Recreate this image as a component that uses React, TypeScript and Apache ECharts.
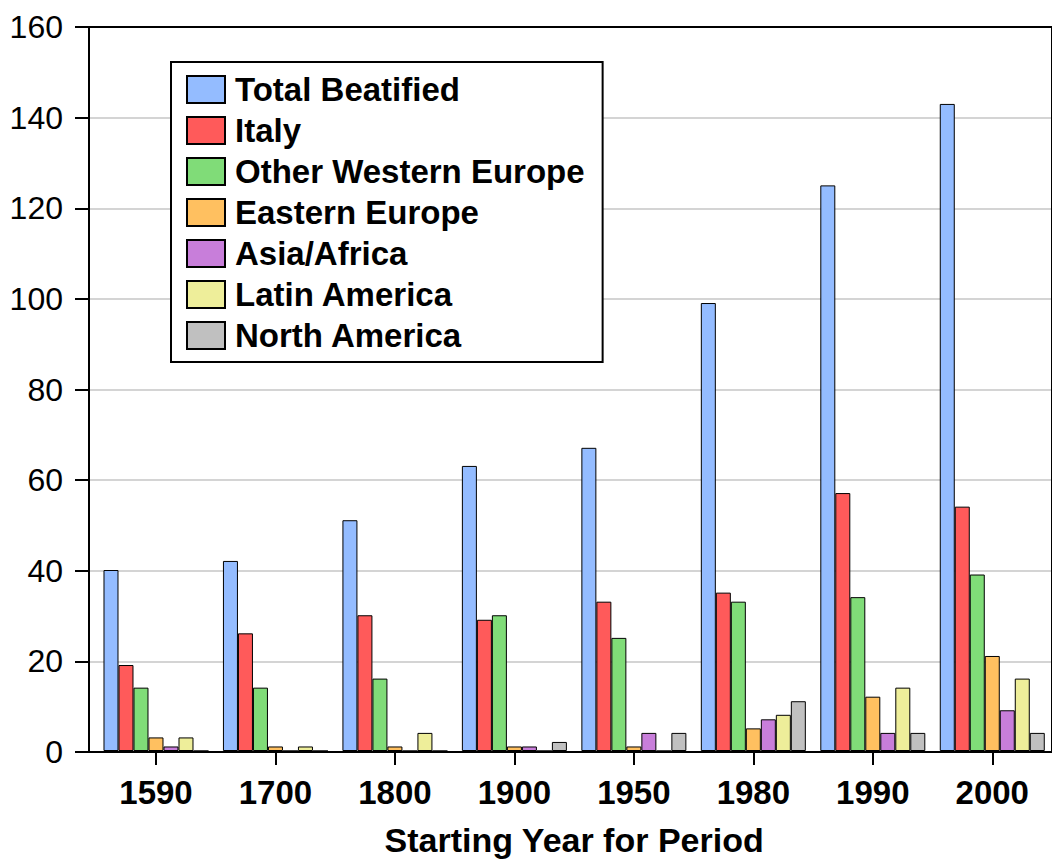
import React, { useEffect, useRef } from "react";
import * as echarts from "echarts";

const categories = ["1590", "1700", "1800", "1900", "1950", "1980", "1990", "2000"];
const seriesNames = [
  "Total Beatified",
  "Italy",
  "Other Western Europe",
  "Eastern Europe",
  "Asia/Africa",
  "Latin America",
  "North America",
];
const totalBeatified = [40, 42, 51, 63, 67, 99, 125, 143];
const italy = [19, 26, 30, 29, 33, 35, 57, 54];
const otherWesternEurope = [14, 14, 16, 30, 25, 33, 34, 39];
const easternEurope = [3, 1, 1, 1, 1, 5, 12, 21];
const asiaAfrica = [1, 0, 0, 1, 4, 7, 4, 9];
const latinAmerica = [3, 1, 4, 0, 0, 8, 14, 16];
const northAmerica = [0, 0, 0, 2, 4, 11, 4, 4];
const seriesValues = [
  totalBeatified,
  italy,
  otherWesternEurope,
  easternEurope,
  asiaAfrica,
  latinAmerica,
  northAmerica,
];
const colors = ["#94BCFF", "#FF5A5A", "#80DC78", "#FFC060", "#C87EDA", "#EEEE9A", "#C0C0C0"];
const yMin = 0;
const yMax = 160;
const yInterval = 20;
const xTitle = "Starting Year for Period";

const FONT = "'Liberation Sans', Arial, sans-serif";

export default function App() {
  const ref = useRef<HTMLDivElement>(null);
  useEffect(() => {
    if (!ref.current) return;
    const chart = echarts.init(ref.current, undefined, { renderer: "svg" });
    const option: any = {
      animation: false,
      backgroundColor: "#ffffff",
      textStyle: { fontFamily: FONT },
      grid: [
        { left: 96.25, top: 27, width: 956, height: 725, containLabel: false },
        {
          left: 89,
          top: 27,
          width: 975,
          height: 725,
          show: true,
          borderColor: "#000",
          borderWidth: 2,
          backgroundColor: "transparent",
          z: 1,
        },
      ],
      legend: {
        orient: "vertical",
        left: 171,
        top: 62,
        padding: [11, 18, 10, 15],
        itemWidth: 38,
        itemHeight: 27,
        itemGap: 8,
        backgroundColor: "#fff",
        borderColor: "#000",
        borderWidth: 2,
        icon: "rect",
        data: seriesNames,
        textStyle: {
          fontFamily: FONT,
          fontSize: 33,
          fontWeight: "bold",
          color: "#000",
          padding: [0, 0, 0, 5],
        },
        z: 10,
      },
      xAxis: [
        {
          type: "category",
          gridIndex: 0,
          data: categories,
          axisLine: { show: false },
          axisTick: {
            show: true,
            alignWithLabel: true,
            length: 14,
            lineStyle: { color: "#000", width: 2 },
          },
          axisLabel: {
            fontFamily: FONT,
            fontSize: 33,
            fontWeight: "bold",
            color: "#000",
            margin: 25,
          },
          name: xTitle,
          nameLocation: "middle",
          nameGap: 72,
          nameTextStyle: {
            fontFamily: FONT,
            fontSize: 34,
            fontWeight: "bold",
            color: "#000",
          },
        },
        {
          type: "value",
          gridIndex: 1,
          min: 0,
          max: 1,
          show: false,
        },
      ],
      yAxis: [
        {
          type: "value",
          gridIndex: 0,
          min: yMin,
          max: yMax,
          interval: yInterval,
          show: false,
        },
        {
          type: "value",
          gridIndex: 1,
          min: yMin,
          max: yMax,
          interval: yInterval,
          axisLine: { show: true, lineStyle: { color: "#000", width: 2 } },
          axisTick: { show: true, length: 14, lineStyle: { color: "#000", width: 2 } },
          axisLabel: {
            fontFamily: FONT,
            fontSize: 32,
            color: "#000",
            margin: 26,
          },
          splitLine: { show: true, lineStyle: { color: "#d4d4d4", width: 2 } },
        },
      ],
      series: seriesNames.map((name, i) => ({
        name,
        type: "bar",
        xAxisIndex: 0,
        yAxisIndex: 0,
        data: seriesValues[i],
        barWidth: 15,
        barGap: "0%",
        z: 5,
        itemStyle: {
          color: colors[i],
          borderColor: "#000",
          borderWidth: 1,
        },
      })),
    };
    chart.setOption(option);
    return () => chart.dispose();
  }, []);
  return (
    <div
      ref={ref}
      style={{ position: "absolute", left: 0, top: 0, width: 1052, height: 862 }}
    />
  );
}
